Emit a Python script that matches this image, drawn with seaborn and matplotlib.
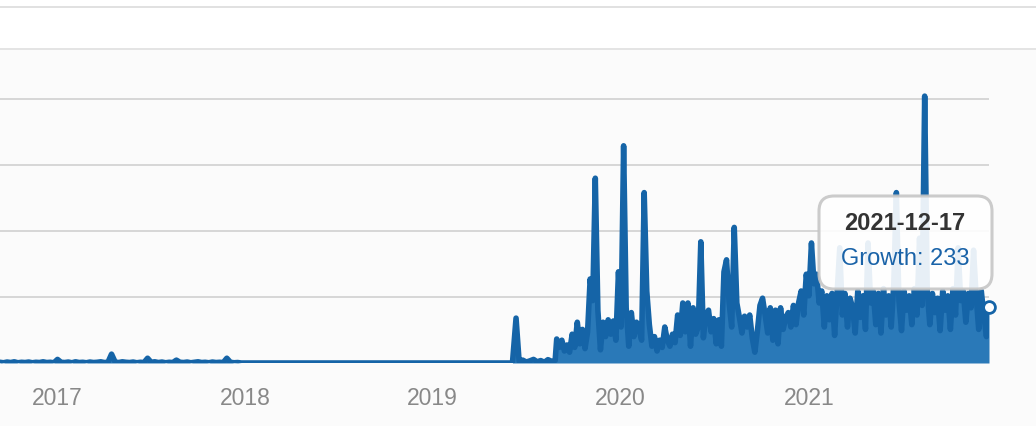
import pandas as pd
import seaborn as sns
import numpy as np
import matplotlib.pyplot as plt
from matplotlib.patches import FancyBboxPatch, Rectangle
from matplotlib.lines import Line2D
from matplotlib.transforms import IdentityTransform

# weekly values, Sep 2016 - Dec 2017
early_vals = [3, 1, 4, 2, 5, 1, 3, 2, 4, 1, 3, 2, 5, 2, 3, 1,
              15,
              3, 2, 4, 1, 5, 2, 3, 1, 4, 2, 3, 5, 2, 3,
              37,
              4, 2, 5, 3, 2, 4, 1, 3, 2,
              20,
              3, 5, 2, 4, 1, 3, 2,
              12,
              3, 2, 4, 1, 3, 5, 2, 3, 1, 4, 2, 3, 2,
              20,
              3, 1, 2, 0]

# quiet stretch and the June 2019 spike
flat_dates = ['2018-01-08', '2019-06-05', '2019-06-12']
flat_vals = [0, 0, 187]

# weekly values, summer 2019
summer_vals = [6, 12, 4, 9, 15, 5, 10, 3, 14, 7, 11]

# 5-day values, Aug 2019 - Dec 2021
main_vals = [100, 65, 95, 50, 75, 45, 120, 65, 170, 80,
             140, 60, 130, 350, 260, 770, 220, 55, 170, 110,
             180, 120, 175, 95, 380, 150, 905, 230, 70, 210,
             110, 170, 140, 95, 710, 300, 160, 70, 110, 50,
             95, 65, 150, 95, 70, 120, 85, 200, 115, 250,
             130, 250, 70, 230, 120, 150, 505, 105, 200, 220,
             130, 185, 80, 180, 70, 380, 430, 250, 150, 565,
             250, 190, 125, 195, 150, 200, 105, 45, 135, 240,
             270, 200, 125, 230, 95, 220, 80, 230, 140, 190,
             210, 150, 240, 160, 250, 300, 200, 370, 280, 500,
             330, 370, 250, 300, 150, 280, 180, 290, 115, 300,
             480, 200, 290, 150, 270, 230, 125, 300, 190, 280,
             140, 500, 250, 300, 160, 290, 125, 310, 200, 280,
             150, 330, 710, 260, 135, 300, 220, 280, 160, 310,
             200, 520, 240, 1112, 300, 160, 290, 210, 270, 135,
             300, 220, 280, 140, 310, 200, 480, 260, 300, 170,
             290, 230, 470, 280, 140, 300, 200, 110, 233]

years = ['2017', '2018', '2019', '2020', '2021']

dates = (list(pd.date_range('2016-09-12', periods=len(early_vals), freq='7D'))
         + list(pd.to_datetime(flat_dates))
         + list(pd.date_range('2019-06-18', periods=len(summer_vals), freq='7D'))
         + list(pd.date_range(end='2021-12-17', periods=len(main_vals), freq='5D')))
vals = early_vals + flat_vals + summer_vals + main_vals
df = pd.DataFrame({'date': dates, 'growth': vals})

sns.set_theme(style='white')
plt.rcParams['font.family'] = ['Liberation Sans', 'DejaVu Sans']

W, H = 1036, 426
fig = plt.figure(figsize=(W / 100, H / 100), dpi=100, facecolor='#fbfbfb')

# white strip at the top with its two rules
fig.add_artist(Rectangle((0, (H - 49) / H), 1, 49 / H, transform=fig.transFigure,
                         facecolor='white', edgecolor='none', zorder=0))
for yp, c in [(7, '#dedede'), (49, '#e2e2e2')]:
    fig.add_artist(Line2D([0, 1], [(H - yp) / H] * 2, transform=fig.transFigure,
                          color=c, lw=1.3, zorder=1))

ax = fig.add_axes([0, (H - 363) / H, 989 / W, (363 - 49) / H])
ax.set_facecolor('none')

ax.fill_between(df['date'], df['growth'], 0, color='#2a79b8', lw=0, zorder=2)
sns.lineplot(data=df, x='date', y='growth', ax=ax, color='#1564a7', lw=4.0,
             solid_joinstyle='round', solid_capstyle='round', zorder=3)
ax.plot(df['date'].iloc[-1], df['growth'].iloc[-1], 'o', ms=8.5, mfc='white',
        mec='#1564a7', mew=2, zorder=5, clip_on=False)

for v in [275, 550, 825, 1100]:
    ax.axhline(v, color='#d0d0d0', lw=1.2, zorder=1)

ax.set_ylim(0, (363 - 49) / 66 * 275)
ax.set_xlim(pd.Timestamp('2017-01-01') - pd.Timedelta(days=57 / 188 * 365.25),
            pd.Timestamp('2021-12-17'))
ax.set_xticks([pd.Timestamp(y + '-01-01') for y in years])
ax.set_xticklabels(years)
ax.tick_params(axis='x', length=0, pad=17, labelsize=16.5, labelcolor='#888888')
ax.set_yticks([])
ax.set_xlabel('')
ax.set_ylabel('')
for s in ax.spines.values():
    s.set_visible(False)

# tooltip
box = FancyBboxPatch((819, H - 289), 173, 93, boxstyle='round,pad=0,rounding_size=15',
                     transform=IdentityTransform(), facecolor='white', alpha=0.9,
                     edgecolor='#c6c6c6', lw=2.2, zorder=10)
fig.add_artist(box)
fig.text(905 / W, (H - 223) / H, '2021-12-17', ha='center', va='center',
         fontsize=17, fontweight='bold', color='#333333', zorder=11)
fig.text(905 / W, (H - 259) / H, 'Growth: 233', ha='center', va='center',
         fontsize=17, color='#1a63a8', zorder=11)

fig.savefig('out.png', dpi=100, facecolor=fig.get_facecolor())
